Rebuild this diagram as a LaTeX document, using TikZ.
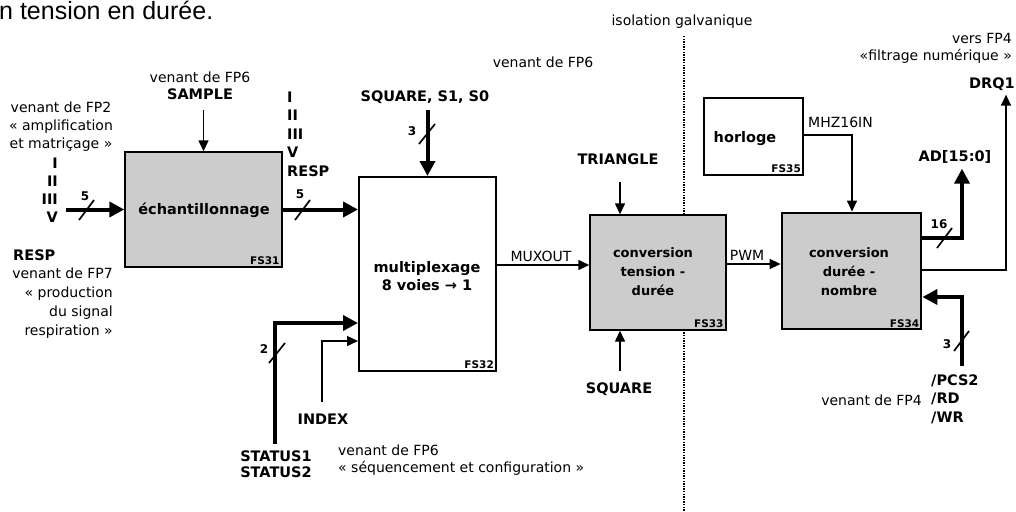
\documentclass[tikz,border=0pt]{standalone}
\usepackage{fontspec}
\setmainfont{DejaVu Sans}
\newfontfamily\titlefont{Liberation Sans}
\usetikzlibrary{arrows.meta}
\definecolor{boxgray}{gray}{0.8}
\begin{document}
\begin{tikzpicture}[x=1pt,y=-1pt,
  lbl/.style={font=\fontsize{14}{18}\selectfont, inner sep=0pt},
  blbl/.style={font=\fontsize{14.5}{18.5}\selectfont\bfseries, inner sep=0pt},
  num/.style={font=\fontsize{12}{13}\selectfont\bfseries, inner sep=0pt},
  fsbox/.style={draw, line width=1.4pt, fill=boxgray, inner sep=0pt},
  wbox/.style={draw, line width=2pt, fill=white, inner sep=0pt},
  boxtxt/.style={font=\fontsize{14.5}{18}\selectfont\bfseries, align=center, inner sep=0pt},
  smalltxt/.style={font=\fontsize{13}{19}\selectfont\bfseries, align=center, inner sep=0pt},
  fstag/.style={font=\fontsize{10.5}{11}\selectfont\bfseries, anchor=south east, inner sep=3pt},
  sig/.style={line width=1.4pt, -{Triangle[length=11pt,width=10pt]}},
  bus/.style={line width=4pt, -{Triangle[length=15pt,width=15pt]}},
  slash/.style={line width=1.7pt},
]
\useasboundingbox (0,0) rectangle (1016,511);

% title and separator
\node[font=\titlefont\fontsize{25}{28}\selectfont, anchor=base west, inner sep=0pt] (title) at (-1,20) {n tension en durée.};
\node[lbl] (iso) at (682,22) {isolation galvanique};
\coordinate (isoTop) at (684,36);
\coordinate (isoBot) at (684,511);
\draw[line width=1.6pt, dash pattern=on 1.4pt off 1.2pt] (isoTop) -- (isoBot);

% boxes
\node[fsbox, minimum width=157pt, minimum height=115pt] (ech) at (203.5,209.5) {};
\node[wbox, minimum width=137pt, minimum height=194pt] (mux) at (427.5,274) {};
\node[fsbox, minimum width=136pt, minimum height=115pt] (ctd) at (658,272.5) {};
\node[fsbox, line width=2.8pt, minimum width=139pt, minimum height=116pt] (cdn) at (851.5,271) {};
\node[wbox, minimum width=99pt, minimum height=77pt] (hor) at (753.5,136.5) {};

\node[boxtxt] (echT) at (204,210) {échantillonnage};
\node[boxtxt] (muxT) at (427,276) {multiplexage\\8 voies → 1};
\node[smalltxt] (ctdT) at (653,272) {conversion\\tension -\\durée};
\node[smalltxt] (cdnT) at (849,272) {conversion\\durée -\\nombre};
\node[boxtxt] (horT) at (745,139) {horloge};

\node[fstag] (fs31) at (ech.south east) {FS31};
\node[fstag] (fs32) at (mux.south east) {FS32};
\node[fstag] (fs33) at (ctd.south east) {FS33};
\node[fstag] (fs34) at (cdn.south east) {FS34};
\node[fstag] (fs35) at (hor.south east) {FS35};

% left inputs
\node[lbl, align=center] (fp2) at (61,127) {venant de FP2\\« amplification\\et matriçage »};
\node[blbl, align=right, anchor=east, font=\fontsize{14.5}{18}\selectfont\bfseries] (roman) at (58,190) {I\\II\\III\\V};
\node[blbl, anchor=west] (respL) at (13,255) {RESP};
\node[lbl, align=right, anchor=east, font=\fontsize{14}{19}\selectfont] (fp7) at (113,303.5) {venant de FP7\\« production\\du signal\\respiration »};
\coordinate (inStart) at (66,209.5);
\draw[bus] (inStart) -- (ech.west);
\coordinate (s1a) at (79,220); \coordinate (s1b) at (94,200);
\draw[slash] (s1a) -- (s1b);
\node[num] (n5a) at (85,196) {5};

% SAMPLE
\node[lbl] (fp6a) at (200,77) {venant de FP6};
\node[blbl] (sample) at (200,94) {SAMPLE};
\coordinate (sampTop) at (203.5,110);
\draw[sig] (sampTop) -- (ech.north);

% ech -> mux
\node[blbl, align=left, anchor=west] (outs) at (287,134) {I\\II\\III\\V\\RESP};
\draw[bus] (ech.east) -- (ech.east -| mux.west);
\coordinate (s2a) at (295,220); \coordinate (s2b) at (310,200);
\draw[slash] (s2a) -- (s2b);
\node[num] (n5b) at (300,194) {5};

% SQUARE, S1, S0
\node[lbl] (fp6c) at (543,62) {venant de FP6};
\node[blbl] (sqs) at (425,97) {SQUARE, S1, S0};
\coordinate (sqTop) at (427.5,110);
\draw[bus] (sqTop) -- (mux.north);
\coordinate (s3a) at (419,144); \coordinate (s3b) at (435,124);
\draw[slash] (s3a) -- (s3b);
\node[num] (n3a) at (412,131) {3};

% STATUS and INDEX
\node[blbl, align=center, font=\fontsize{14.5}{16}\selectfont\bfseries] (status) at (276,464) {STATUS1\\STATUS2};
\node[blbl] (index) at (323,419) {INDEX};
\node[lbl, align=left, anchor=west, font=\fontsize{14}{16.5}\selectfont] (fp6b) at (338,460) {venant de FP6\\« séquencement et configuration »};
\coordinate (stBot) at (275,444);
\coordinate (stCorner) at (275,323);
\draw[bus] (stBot) -- (stCorner) -- (stCorner -| mux.west);
\coordinate (s4a) at (269,363); \coordinate (s4b) at (285,343);
\draw[slash] (s4a) -- (s4b);
\node[num] (n2) at (264,349) {2};
\coordinate (idxBot) at (322,402);
\coordinate (idxCorner) at (322,341);
\draw[sig] (idxBot) -- (idxCorner) -- (idxCorner -| mux.west);

% MUXOUT
\coordinate (mo) at (496,265);
\draw[sig] (mo) -- (mo -| ctd.west);
\node[lbl, anchor=base] (muxout) at (541,261) {MUXOUT};

% TRIANGLE / SQUARE
\node[blbl] (tri) at (618,159) {TRIANGLE};
\coordinate (trTop) at (620,182);
\draw[sig] (trTop) -- (trTop |- ctd.north);
\node[blbl] (sq) at (619,389) {SQUARE};
\coordinate (sqBot) at (620,371);
\draw[sig] (sqBot) -- (sqBot |- ctd.south);

% PWM
\coordinate (pw) at (726,264);
\draw[sig] (pw) -- (pw -| cdn.west);
\node[lbl, anchor=base] (pwm) at (747,260) {PWM};

% horloge
\node[lbl, anchor=base west] (mhz) at (808,127) {MHZ16IN};
\coordinate (hk) at (852,135);
\draw[sig] (hor.east |- hk) -- (hk) -- (hk |- cdn.north);

% outputs
\node[lbl, align=right, anchor=east, font=\fontsize{14}{17}\selectfont] (vers) at (1012,48) {vers FP4\\«filtrage numérique »};
\node[blbl, anchor=east] (drq) at (1015,84) {DRQ1};
\node[blbl] (ad) at (955,157) {AD[15:0]};
\coordinate (adc) at (962,238);
\draw[bus, shorten >=5pt] (cdn.east |- adc) -- (adc) -- (ad.south -| adc);
\coordinate (s5a) at (937,248); \coordinate (s5b) at (952,228);
\draw[slash] (s5a) -- (s5b);
\node[num] (n16) at (939,224) {16};
\coordinate (dq) at (1006,270);
\draw[sig, shorten >=4pt] (cdn.east |- dq) -- (dq) -- (dq |- drq.south);

% PCS2 / RD / WR
\node[blbl, align=left, anchor=west] (pcs) at (931,399) {/PCS2\\/RD\\/WR};
\node[lbl, anchor=east] (fp4) at (922,400) {venant de FP4};
\coordinate (pcb) at (962,366);
\coordinate (pc) at (962,297);
\draw[bus] (pcb) -- (pc) -- (pc -| cdn.east);
\coordinate (s6a) at (954,351); \coordinate (s6b) at (969,331);
\draw[slash] (s6a) -- (s6b);
\node[num] (n3b) at (947,344) {3};
\end{tikzpicture}
\end{document}
